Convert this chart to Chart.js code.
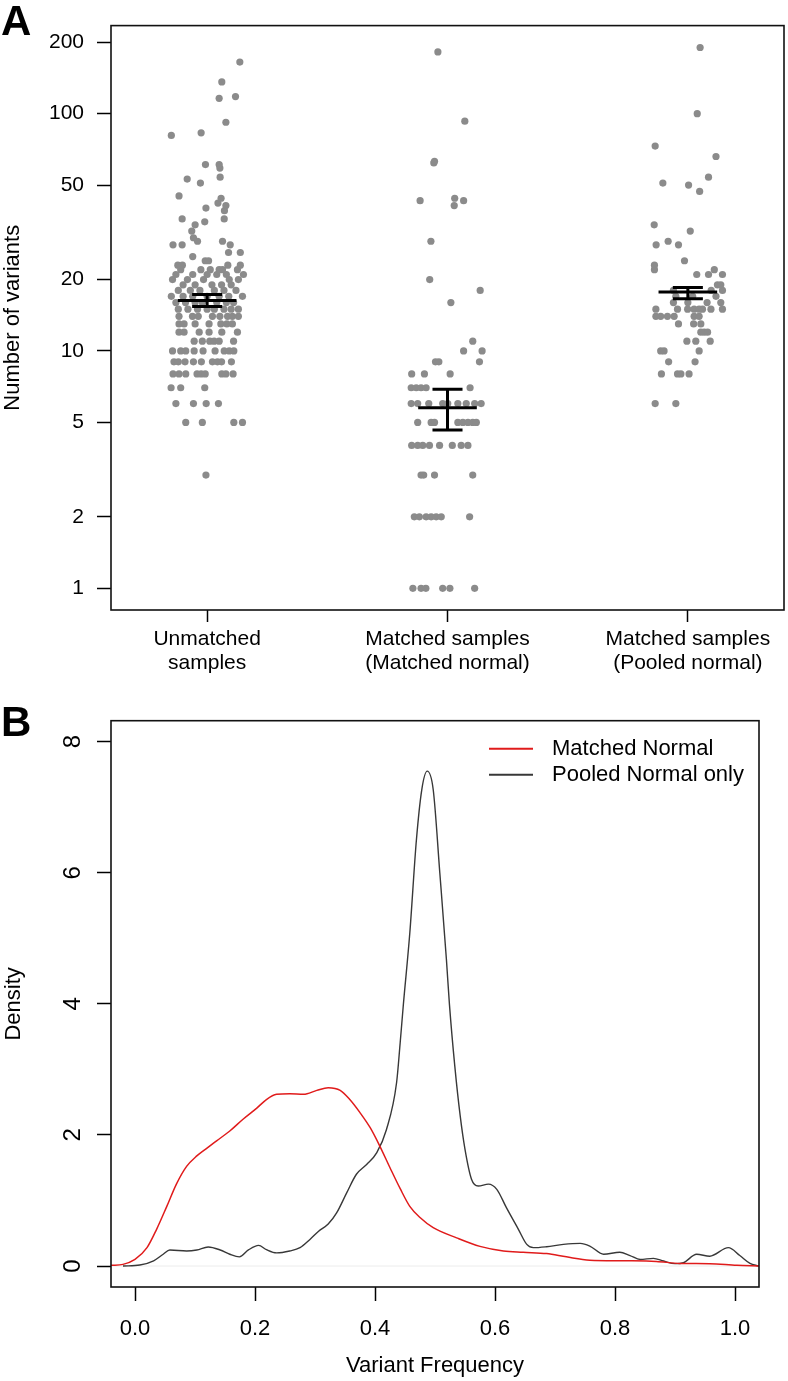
<!DOCTYPE html>
<html>
<head>
<meta charset="utf-8">
<script src="https://cdn.jsdelivr.net/npm/chart.js@4.4.1/dist/chart.umd.min.js"></script>
<style>
  html, body { margin: 0; padding: 0; background: #fff; }
  body { width: 788px; height: 1381px; position: relative; overflow: hidden; }
  .panel { position: absolute; left: 0; width: 788px; }
  #panel-a { top: 0; height: 690px; }
  #panel-b { top: 690px; height: 691px; }
  .tag { position: absolute; left: 1px; font: bold 42px 'Liberation Sans', Arial, sans-serif; line-height: 42px; color: #000; }
</style>
</head>
<body>
<div class="panel" id="panel-a"><canvas id="chart-a" width="788" height="690"></canvas></div>
<div class="panel" id="panel-b"><canvas id="chart-b" width="788" height="691"></canvas></div>
<div class="tag" style="top:0px;">A</div>
<div class="tag" style="top:701px;">B</div>
<script>
// panel A: number of variants per sample, [count, horizontal jitter]
const categoryLabels = [
  ["Unmatched", "samples"],
  ["Matched samples", "(Matched normal)"],
  ["Matched samples", "(Pooled normal)"],
];
const countTicks = [1, 2, 5, 10, 20, 50, 100, 200];

const unmatchedPoints = [
  [3, -0.005],
  [5, -0.089], [5, -0.02], [5, 0.111], [5, 0.147],
  [6, -0.13], [6, -0.057], [6, -0.004], [6, 0.047],
  [7, -0.15], [7, -0.11], [7, -0.01],
  [8, -0.142], [8, -0.117], [8, -0.089], [8, -0.042], [8, -0.025], [8, -0.008], [8, 0.061], [8, 0.078], [8, 0.108],
  [9, -0.138], [9, -0.12], [9, -0.092], [9, -0.057], [9, -0.024], [9, 0.022], [9, 0.043], [9, 0.06], [9, 0.101],
  [10, -0.144], [10, -0.11], [10, -0.089], [10, -0.054], [10, -0.017], [10, 0.033], [10, 0.071], [10, 0.092], [10, 0.111],
  [11, -0.054], [11, -0.02], [11, 0.011], [11, 0.029], [11, 0.05], [11, 0.11],
  [12, -0.117], [12, -0.096], [12, -0.033], [12, 0.008], [12, 0.061], [12, 0.126],
  [13, -0.117], [13, -0.096], [13, -0.05], [13, 0.008], [13, 0.057], [13, 0.082], [13, 0.105],
  [14, -0.117], [14, -0.061], [14, -0.037], [14, 0.022], [14, 0.053], [14, 0.085], [14, 0.105], [14, 0.13],
  [15, -0.12], [15, -0.08], [15, -0.04], [15, 0.0], [15, 0.03], [15, 0.07], [15, 0.1], [15, 0.13],
  [16, -0.13], [16, -0.09], [16, -0.05], [16, -0.02], [16, 0.04], [16, 0.08], [16, 0.11],
  [17, -0.149], [17, -0.1], [17, -0.06], [17, 0.0], [17, 0.05], [17, 0.09], [17, 0.147],
  [18, -0.12], [18, -0.07], [18, -0.03], [18, 0.03], [18, 0.07], [18, 0.12],
  [19, -0.1], [19, -0.05], [19, 0.02], [19, 0.06], [19, 0.1],
  [20, -0.144], [20, -0.082], [20, -0.015], [20, 0.092], [20, 0.13],
  [21, -0.13], [21, -0.06], [21, 0.0], [21, 0.04], [21, 0.08], [21, 0.151],
  [22, -0.11], [22, -0.026], [22, 0.013], [22, 0.05], [22, 0.064], [22, 0.126],
  [23, -0.122], [23, -0.103], [23, 0.086], [23, 0.138],
  [24, -0.008], [24, 0.006], [25, -0.06], [26, 0.089], [26, 0.138],
  [28, -0.142], [28, -0.104], [28, 0.096], [29, -0.04], [29, 0.064],
  [30, -0.057], [32, -0.064], [34, -0.05], [35, -0.01], [36, -0.104], [36, 0.071],
  [39, 0.072], [40, -0.005], [41, 0.078], [42, 0.045], [44, 0.058], [45, -0.117],
  [51, -0.028], [53, -0.083], [54, 0.054], [59, 0.053], [61, -0.007], [61, 0.05],
  [81, -0.149], [83, -0.025], [92, 0.078], [116, 0.05], [118, 0.118], [136, 0.061], [165, 0.136],
];

const matchedNormalPoints = [
  [1, -0.144], [1, -0.11], [1, -0.09], [1, -0.02], [1, 0.01], [1, 0.113],
  [2, -0.138], [2, -0.117], [2, -0.089], [2, -0.068], [2, -0.047], [2, -0.026], [2, 0.092],
  [3, -0.11], [3, -0.099], [3, -0.054], [3, 0.105],
  [4, -0.149], [4, -0.124], [4, -0.103], [4, -0.075], [4, -0.033], [4, 0.02], [4, 0.057], [4, 0.085],
  [5, -0.124], [5, -0.068], [5, -0.054], [5, 0.043], [5, 0.064], [5, 0.085], [5, 0.105], [5, 0.12],
  [6, -0.151], [6, -0.124], [6, -0.078], [6, -0.02], [6, 0.001], [6, 0.043], [6, 0.078], [6, 0.113], [6, 0.14],
  [7, -0.151], [7, -0.13], [7, -0.11], [7, -0.089], [7, 0.094],
  [8, -0.149], [8, -0.096], [8, 0.011],
  [9, -0.05], [9, -0.036], [9, 0.133],
  [10, 0.067], [10, 0.144], [11, 0.105], [16, 0.014], [18, 0.136], [20, -0.074], [29, -0.069],
  [41, 0.028], [43, -0.114], [43, 0.067], [44, 0.03], [62, -0.057], [63, -0.054], [93, 0.072], [182, -0.04],
];

const pooledNormalPoints = [
  [6, -0.136], [6, -0.05],
  [8, -0.11], [8, -0.043], [8, -0.029], [8, 0.005],
  [9, -0.08], [9, 0.03],
  [10, -0.113], [10, -0.099], [10, 0.047],
  [11, -0.004], [11, 0.033], [11, 0.093],
  [12, 0.054], [12, 0.068], [12, 0.082],
  [13, -0.039], [13, 0.024], [13, 0.054],
  [14, -0.133], [14, -0.113], [14, -0.085], [14, -0.057], [14, 0.026], [14, 0.047],
  [15, -0.133], [15, -0.043], [15, -0.001], [15, 0.026], [15, 0.047], [15, 0.061], [15, 0.096], [15, 0.144],
  [16, -0.06], [16, 0.0], [16, 0.08], [16, 0.137],
  [17, -0.05], [17, 0.02], [17, 0.117],
  [18, -0.06], [18, 0.097], [18, 0.144],
  [19, 0.123], [19, 0.137],
  [21, 0.037], [21, 0.086], [21, 0.144], [22, -0.139], [22, 0.11], [23, -0.139], [24, -0.014],
  [28, -0.132], [28, -0.039], [29, -0.082], [32, 0.01], [34, -0.14],
  [47, 0.049], [50, 0.003], [51, -0.104], [54, 0.086], [66, 0.117], [73, -0.136], [100, 0.039], [190, 0.051],
];

// mean and standard error per group
const groupMeans = [16.3, 5.77, 17.7];
const groupLower = [15.4, 4.64, 16.6];
const groupUpper = [17.3, 6.89, 18.5];

// panel B: density of variant frequency
const freqTicks = [0, 0.2, 0.4, 0.6, 0.8, 1.0];
const densityTicks = [0, 2, 4, 6, 8];
const matchedFreq = [-0.04, -0.02, 0.0, 0.02, 0.036, 0.053, 0.069, 0.086, 0.103, 0.12, 0.136, 0.158, 0.18, 0.203, 0.219, 0.236, 0.258, 0.281, 0.303, 0.322, 0.342, 0.358, 0.375, 0.392, 0.408, 0.425, 0.442, 0.458, 0.475, 0.497, 0.536, 0.575, 0.614, 0.647, 0.686, 0.719, 0.758, 0.814, 0.869, 0.908, 0.958, 1.003, 1.04];
const matchedDensity = [0.01, 0.025, 0.1, 0.28, 0.56, 0.91, 1.25, 1.52, 1.68, 1.8, 1.91, 2.06, 2.24, 2.41, 2.54, 2.62, 2.63, 2.62, 2.68, 2.72, 2.68, 2.54, 2.34, 2.11, 1.83, 1.5, 1.18, 0.91, 0.74, 0.585, 0.43, 0.3, 0.23, 0.21, 0.19, 0.14, 0.09, 0.08, 0.07, 0.04, 0.035, 0.01, 0.0];
const pooledFreq = [-0.02, 0.008, 0.031, 0.047, 0.058, 0.086, 0.103, 0.122, 0.142, 0.158, 0.174, 0.189, 0.206, 0.219, 0.236, 0.258, 0.275, 0.292, 0.306, 0.322, 0.336, 0.353, 0.369, 0.386, 0.403, 0.419, 0.436, 0.442, 0.447, 0.458, 0.469, 0.478, 0.487, 0.497, 0.508, 0.519, 0.524, 0.533, 0.542, 0.55, 0.561, 0.572, 0.589, 0.603, 0.619, 0.639, 0.653, 0.664, 0.686, 0.714, 0.742, 0.758, 0.781, 0.808, 0.825, 0.842, 0.864, 0.881, 0.9, 0.914, 0.936, 0.958, 0.989, 1.008, 1.025, 1.039];
const pooledDensity = [0, 0.015, 0.08, 0.18, 0.245, 0.23, 0.245, 0.29, 0.245, 0.18, 0.14, 0.245, 0.315, 0.25, 0.2, 0.23, 0.28, 0.41, 0.53, 0.64, 0.81, 1.12, 1.4, 1.55, 1.73, 2.08, 2.8, 3.41, 3.96, 5.08, 6.5, 7.27, 7.55, 7.27, 6.0, 4.68, 4.0, 3.05, 2.29, 1.78, 1.32, 1.22, 1.25, 1.17, 0.89, 0.56, 0.33, 0.28, 0.295, 0.33, 0.345, 0.305, 0.18, 0.21, 0.16, 0.1, 0.117, 0.076, 0.036, 0.05, 0.18, 0.15, 0.28, 0.16, 0.04, 0.0];

const FONT = "'Liberation Sans', Arial, sans-serif";
const MEAN_HALF = 0.122;
const CAP_HALF = 0.0625;

Chart.defaults.font.family = FONT;
Chart.defaults.color = "#000";
Chart.defaults.animation = false;
Chart.defaults.events = [];
Chart.defaults.plugins.legend.display = false;
Chart.defaults.plugins.tooltip.enabled = false;

const frame = {
  id: "frame",
  afterDraw(chart) {
    const { left, top, right, bottom } = chart.chartArea;
    const ctx = chart.ctx;
    ctx.save();
    ctx.strokeStyle = "#111";
    ctx.lineWidth = 1.6;
    ctx.strokeRect(left, top, right - left, bottom - top);
    ctx.restore();
  },
};

function jittered(points, groupIndex) {
  return points.map(([count, jitter]) => ({ x: groupIndex + jitter, y: count }));
}

function errorBarSegments() {
  const segs = [];
  groupMeans.forEach((mean, i) => {
    const c = i + 1;
    segs.push({ x: c - MEAN_HALF, y: mean }, { x: c + MEAN_HALF, y: mean }, { x: null, y: null });
    segs.push({ x: c - CAP_HALF, y: groupLower[i] }, { x: c + CAP_HALF, y: groupLower[i] }, { x: null, y: null });
    segs.push({ x: c - CAP_HALF, y: groupUpper[i] }, { x: c + CAP_HALF, y: groupUpper[i] }, { x: null, y: null });
    segs.push({ x: c, y: groupLower[i] }, { x: c, y: groupUpper[i] }, { x: null, y: null });
  });
  return segs;
}

const pointStyle = {
  pointRadius: 3.6,
  pointBackgroundColor: "#8b8b8b",
  pointBorderWidth: 0,
  showLine: false,
  order: 1,
};

new Chart(document.getElementById("chart-a"), {
  type: "scatter",
  data: {
    datasets: [
      { data: jittered(unmatchedPoints, 1), ...pointStyle },
      { data: jittered(matchedNormalPoints, 2), ...pointStyle },
      { data: jittered(pooledNormalPoints, 3), ...pointStyle },
      {
        data: errorBarSegments(),
        showLine: true,
        spanGaps: false,
        borderColor: "#000",
        borderWidth: 3,
        pointRadius: 0,
        order: 0,
      },
    ],
  },
  options: {
    responsive: false,
    layout: { padding: { top: 21, right: 4, left: 0, bottom: 0 } },
    scales: {
      x: {
        type: "linear",
        min: 0.6,
        max: 3.4,
        afterBuildTicks: (scale) => {
          scale.ticks = categoryLabels.map((_, i) => ({ value: i + 1 }));
        },
        afterFit: (scale) => {
          scale.height = 80;
        },
        ticks: {
          callback: (value) => categoryLabels[Math.round(value) - 1],
          font: { size: 21, lineHeight: 1.143 },
          padding: 5,
          maxRotation: 0,
          autoSkip: false,
        },
        grid: { drawOnChartArea: false, drawTicks: true, tickLength: 12, tickColor: "#000", tickWidth: 1.5 },
        border: { display: false },
      },
      y: {
        type: "logarithmic",
        min: 0.81,
        max: 235,
        afterBuildTicks: (scale) => {
          scale.ticks = countTicks.map((v) => ({ value: v }));
        },
        afterFit: (scale) => {
          scale.width = 111;
        },
        ticks: {
          callback: (value) => String(value),
          font: { size: 21 },
          padding: 13,
          autoSkip: false,
        },
        title: {
          display: true,
          text: "Number of variants",
          font: { size: 22 },
          padding: { top: 0, bottom: 0 },
        },
        grid: { drawOnChartArea: false, drawTicks: true, tickLength: 14, tickColor: "#000", tickWidth: 1.5 },
        border: { display: false },
      },
    },
  },
  plugins: [frame],
});

const rotatedYTicks = {
  id: "rotatedYTicks",
  afterDraw(chart) {
    const scale = chart.scales.y;
    const ctx = chart.ctx;
    ctx.save();
    ctx.fillStyle = "#000";
    ctx.font = "24px " + FONT;
    ctx.textAlign = "center";
    ctx.textBaseline = "alphabetic";
    scale.ticks.forEach((tick) => {
      ctx.save();
      ctx.translate(scale.right - 31, scale.getPixelForValue(tick.value));
      ctx.rotate(-Math.PI / 2);
      ctx.fillText(String(tick.value), 0, 0);
      ctx.restore();
    });
    ctx.restore();
  },
};

const lineLegend = {
  id: "lineLegend",
  afterDraw(chart) {
    const { right, top } = chart.chartArea;
    const ctx = chart.ctx;
    ctx.save();
    ctx.font = "22px " + FONT;
    ctx.textBaseline = "middle";
    chart.data.datasets
      .filter((ds) => ds.label)
      .forEach((ds, i) => {
        const y = top + 28 + i * 26;
        ctx.strokeStyle = ds.borderColor;
        ctx.lineWidth = 2;
        ctx.beginPath();
        ctx.moveTo(right - 270, y);
        ctx.lineTo(right - 226, y);
        ctx.stroke();
        ctx.fillStyle = "#000";
        ctx.fillText(ds.label, right - 207, y);
      });
    ctx.restore();
  },
};

function curve(xs, ys) {
  return xs.map((x, i) => ({ x, y: ys[i] }));
}

new Chart(document.getElementById("chart-b"), {
  type: "scatter",
  data: {
    datasets: [
      {
        label: "Matched Normal",
        data: curve(matchedFreq, matchedDensity),
        showLine: true,
        borderColor: "#e01b1b",
        borderWidth: 1.5,
        pointRadius: 0,
        cubicInterpolationMode: "monotone",
        order: 0,
      },
      {
        label: "Pooled Normal only",
        data: curve(pooledFreq, pooledDensity),
        showLine: true,
        borderColor: "#383838",
        borderWidth: 1.4,
        pointRadius: 0,
        cubicInterpolationMode: "monotone",
        order: 1,
      },
      {
        data: [{ x: -0.04, y: 0 }, { x: 1.04, y: 0 }],
        showLine: true,
        borderColor: "#ececec",
        borderWidth: 1,
        pointRadius: 0,
        order: 2,
      },
    ],
  },
  options: {
    responsive: false,
    layout: { padding: { top: 30.7, right: 29, left: 0, bottom: 0 } },
    scales: {
      x: {
        type: "linear",
        min: -0.04,
        max: 1.04,
        afterBuildTicks: (scale) => {
          scale.ticks = freqTicks.map((v) => ({ value: v }));
        },
        afterFit: (scale) => {
          scale.height = 94;
        },
        ticks: {
          callback: (value) => value.toFixed(1),
          font: { size: 22, lineHeight: 1.2 },
          padding: 15,
          maxRotation: 0,
          autoSkip: false,
        },
        title: {
          display: true,
          text: "Variant Frequency",
          font: { size: 22 },
          padding: { top: 0, bottom: 2 },
        },
        grid: { drawOnChartArea: false, drawTicks: true, tickLength: 14, tickColor: "#000", tickWidth: 1.5 },
        border: { display: false },
      },
      y: {
        type: "linear",
        min: -0.32,
        max: 8.32,
        afterBuildTicks: (scale) => {
          scale.ticks = densityTicks.map((v) => ({ value: v }));
        },
        afterFit: (scale) => {
          scale.width = 111;
        },
        ticks: { display: false },
        title: {
          display: true,
          text: "Density",
          font: { size: 22 },
          padding: { top: 1, bottom: 0 },
        },
        grid: { drawOnChartArea: false, drawTicks: true, tickLength: 14, tickColor: "#000", tickWidth: 1.5 },
        border: { display: false },
      },
    },
  },
  plugins: [frame, rotatedYTicks, lineLegend],
});
</script>
</body>
</html>
